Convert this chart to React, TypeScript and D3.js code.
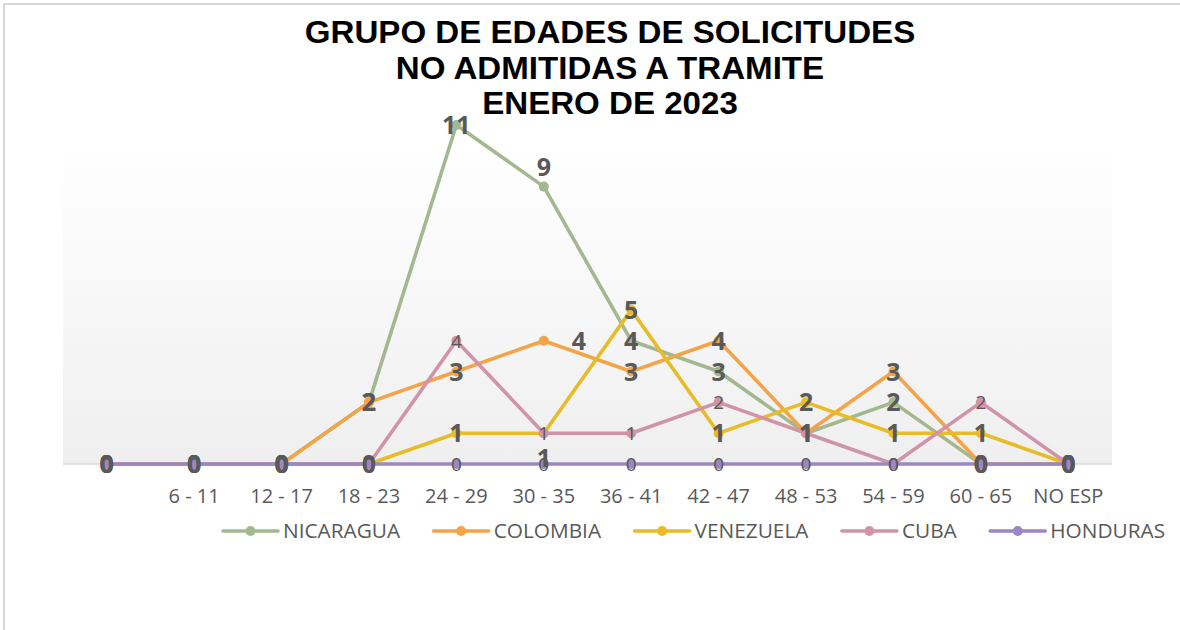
import React, { useEffect, useRef } from "react";
import * as d3 from "d3";

const titleLines = ["GRUPO DE EDADES DE SOLICITUDES", "NO ADMITIDAS A TRAMITE", "ENERO DE 2023"];

const categories = ["", "6 - 11", "12 - 17", "18 - 23", "24 - 29", "30 - 35", "36 - 41", "42 - 47", "48 - 53", "54 - 59", "60 - 65", "NO ESP"];

const nicaragua = [0, 0, 0, 2, 11, 9, 4, 3, 1, 2, 0, 0];
const colombia = [0, 0, 0, 2, 3, 4, 3, 4, 1, 3, 0, 0];
const venezuela = [0, 0, 0, 0, 1, 1, 5, 1, 2, 1, 1, 0];
const cuba = [0, 0, 0, 0, 4, 1, 1, 2, 1, 0, 2, 0];
const honduras = [0, 0, 0, 0, 0, 0, 0, 0, 0, 0, 0, 0];

const seriesNames = ["NICARAGUA", "COLOMBIA", "VENEZUELA", "CUBA", "HONDURAS"];
const seriesValues = [nicaragua, colombia, venezuela, cuba, honduras];
const seriesColors = ["#a3b890", "#f4a448", "#e8bc28", "#d193a8", "#9d86c1"];
const seriesBoldLabels = [true, true, true, false, false];
// label placement exceptions: seriesIndex -> { categoryIndex: placement }
const labelPlacement: Record<number, Record<number, string>> = {
  0: { 5: "above" },
  1: { 5: "right" },
  2: { 5: "below" },
};

export default function App() {
  const ref = useRef<SVGSVGElement | null>(null);

  useEffect(() => {
    const svg = d3.select(ref.current);
    svg.selectAll("*").remove();
    const W = 1180, H = 630;
    const left = 63, right = 1112, bottom = 464;
    const unit = 30.82;

    const x = d3.scaleBand<string>().domain(categories.map((c, i) => String(i))).range([left, right]).paddingInner(0).paddingOuter(0);
    const cx = (i: number) => (x(String(i)) as number) + x.bandwidth() / 2;
    const y = d3.scaleLinear().domain([0, 12]).range([bottom, bottom - 12 * unit]);

    const defs = svg.append("defs");
    const grad = defs.append("linearGradient").attr("id", "bg").attr("x1", 0).attr("y1", 0).attr("x2", 0).attr("y2", 1);
    grad.append("stop").attr("offset", "0%").attr("stop-color", "#ffffff");
    grad.append("stop").attr("offset", "100%").attr("stop-color", "#efefef");

    svg.append("rect").attr("width", W).attr("height", H).attr("fill", "#ffffff");
    svg.append("rect").attr("x", 4).attr("y", 4).attr("width", W + 10).attr("height", H + 10)
      .attr("fill", "none").attr("stroke", "#d9d9d9").attr("stroke-width", 2);

    // title
    titleLines.forEach((t, i) => {
      const tt = svg.append("text").attr("text-anchor", "middle")
        .attr("font-family", "Liberation Sans, Arial, sans-serif").attr("font-weight", "bold")
        .attr("font-size", 30.5).attr("fill", "#000")
        .attr("x", 610).attr("y", 43 + i * 35.5).text(t);
      const w = (tt.node() as SVGTextElement).getComputedTextLength();
      tt.attr("textLength", w * 1.085).attr("lengthAdjust", "spacingAndGlyphs");
    });

    // plot area
    svg.append("rect").attr("x", left).attr("y", 143).attr("width", right - left).attr("height", bottom - 143)
      .attr("fill", "url(#bg)");
    svg.append("line").attr("x1", left).attr("x2", right).attr("y1", bottom).attr("y2", bottom)
      .attr("stroke", "#d9d9d9").attr("stroke-width", 1.5);

    // category labels
    svg.append("g").selectAll("text").data(categories).join("text")
      .attr("x", (d, i) => cx(i)).attr("y", 503).attr("text-anchor", "middle")
      .attr("font-family", "Open Sans, sans-serif").attr("font-size", 20).attr("fill", "#595959")
      .text(d => d);

    const line = d3.line<number>().x((d, i) => cx(i)).y(d => y(d));

    seriesValues.forEach((vals, s) => {
      const g = svg.append("g");
      g.append("path").attr("d", line(vals) as string).attr("fill", "none")
        .attr("stroke", seriesColors[s]).attr("stroke-width", 3.6).attr("stroke-linejoin", "round").attr("stroke-linecap", "round");
      g.selectAll("circle").data(vals).join("circle")
        .attr("cx", (d, i) => cx(i)).attr("cy", d => y(d)).attr("r", 5).attr("fill", seriesColors[s]);
    });

    // labels (drawn after all series)
    const order = [3, 4, 0, 1, 2];
    order.forEach(s => {
      const vals = seriesValues[s];
      const bold = seriesBoldLabels[s];
      svg.append("g").selectAll("text").data(vals).join("text")
        .attr("x", (d, i) => {
          const p = labelPlacement[s]?.[i];
          return cx(i) + (p === "right" ? 35 : 0);
        })
        .attr("y", (d, i) => {
          const p = labelPlacement[s]?.[i];
          return y(d) + (p === "above" ? -20 : p === "below" ? 25 : 0);
        })
        .attr("dy", "0.36em").attr("text-anchor", "middle")
        .attr("font-family", "Open Sans, sans-serif")
        .attr("font-weight", bold ? "bold" : "normal")
        .attr("font-size", bold ? 25 : 19)
        .attr("fill", "#595959")
        .text(d => String(d));
    });

    // legend
    const lg = svg.append("g");
    let lx = 223;
    const ly = 531;
    seriesNames.forEach((name, s) => {
      lg.append("line").attr("x1", lx).attr("x2", lx + 55).attr("y1", ly).attr("y2", ly)
        .attr("stroke", seriesColors[s]).attr("stroke-width", 3.6).attr("stroke-linecap", "round");
      lg.append("circle").attr("cx", lx + 27.5).attr("cy", ly).attr("r", 5).attr("fill", seriesColors[s]);
      const t = lg.append("text").attr("x", lx + 60).attr("y", ly).attr("dy", "0.36em")
        .attr("font-family", "Open Sans, sans-serif").attr("font-size", 20).attr("fill", "#595959").text(name);
      const w = (t.node() as SVGTextElement).getComputedTextLength() * 1.04;
      t.attr("textLength", w).attr("lengthAdjust", "spacingAndGlyphs");
      lx = lx + 60 + w + 33.5;
    });
  }, []);

  return (
    <svg ref={ref} width={1180} height={630} style={{ display: "block", position: "absolute", left: 0, top: 0 }} />
  );
}
